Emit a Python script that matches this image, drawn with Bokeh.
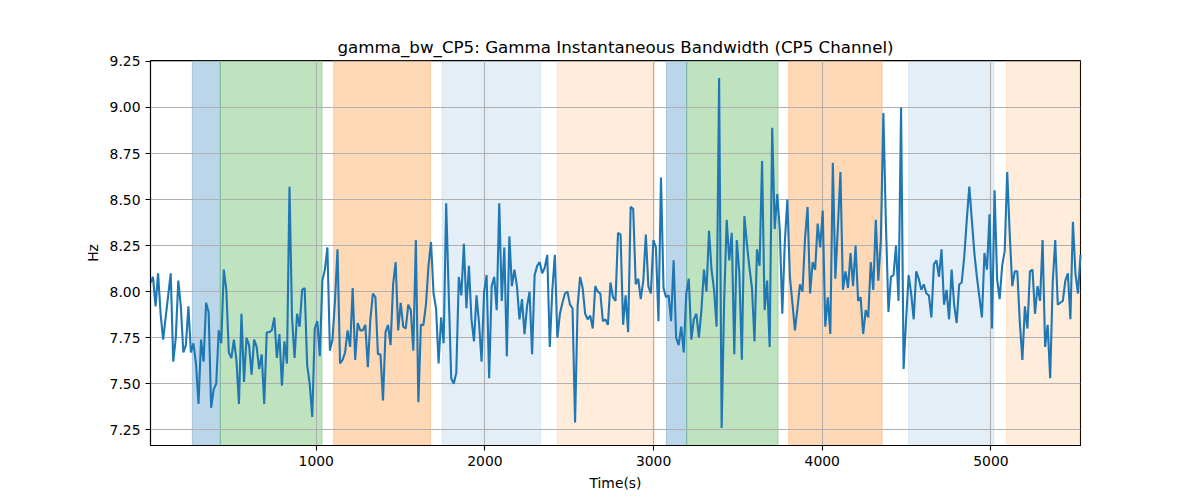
import numpy as np
from bokeh.plotting import figure
from bokeh.models import ColumnDataSource, FixedTicker, NumeralTickFormatter, Range1d
from bokeh.embed import file_html
from bokeh.resources import INLINE

# ---- data ----
t_start = 17
t_end = 5531

bandwidth = [
    # 0 - ~700 s
    8.05, 8.08, 7.92, 8.10, 7.88, 7.74, 7.86, 7.98, 8.10, 7.62, 7.75, 8.06, 7.92, 7.67, 7.71, 7.92,
    7.67, 7.72, 7.61, 7.39, 7.74, 7.62, 7.94, 7.89, 7.37, 7.47, 7.50, 7.79, 7.72, 8.12, 8.01, 7.67,
    7.64, 7.74, 7.63, 7.39, 7.88, 7.51, 7.75, 7.71, 7.55, 7.74, 7.70, 7.58, 7.66, 7.39, 7.78, 7.78,
    # ~700 - 1400 s
    7.79, 7.86, 7.64, 7.77, 7.49, 7.73, 7.61, 8.57, 7.86, 7.64, 7.88, 7.81, 8.01, 8.02, 7.60, 7.50,
    7.32, 7.80, 7.84, 7.65, 8.06, 8.12, 8.24, 7.68, 7.74, 7.95, 8.23, 7.61, 7.63, 7.67, 7.79, 7.70,
    8.02, 7.63, 7.83, 7.79, 7.79, 7.82, 7.59, 7.85, 7.99, 7.97, 7.66, 7.66, 7.41, 7.78,
    # ~1400 - 2100 s
    7.82, 7.71, 8.04, 8.16, 7.79, 7.94, 7.81, 7.80, 7.93, 7.90, 7.68, 8.28, 7.40, 7.82, 7.82, 7.93,
    8.14, 8.27, 7.99, 7.91, 7.61, 7.86, 7.72, 8.48, 7.99, 7.53, 7.50, 7.56, 8.08, 7.98, 8.26, 7.91,
    8.14, 7.85, 7.73, 7.98, 7.83, 7.62, 8.00, 8.09, 7.53, 8.03, 8.08, 7.90, 8.48,
    # ~2100 - 2800 s
    7.95, 8.24, 7.65, 8.30, 8.03, 8.12, 8.03, 7.85, 7.96, 7.77, 7.92, 8.00, 7.66, 8.09, 8.14, 8.16,
    8.10, 8.13, 8.20, 7.70, 8.01, 8.20, 7.75, 7.88, 7.94, 7.99, 8.00, 7.93, 7.91, 7.29, 7.92, 8.08,
    8.02, 7.88, 7.85, 7.87, 7.80, 8.03, 8.00, 7.99, 7.84, 7.85, 7.82, 8.05, 7.97, 7.95, 8.32,
    # ~2800 - 3500 s
    8.31, 7.82, 7.98, 7.78, 8.46, 8.45, 8.04, 8.07, 7.96, 8.06, 8.31, 8.03, 7.99, 8.28, 8.24, 7.84,
    8.62, 8.02, 7.97, 7.98, 7.84, 8.17, 7.75, 7.71, 7.81, 7.67, 7.99, 8.07, 7.74, 7.85, 7.88, 7.75,
    7.90, 8.12, 8.00, 8.33, 8.12, 8.01, 7.81, 9.16, 7.26, 7.95, 8.39, 8.17, 8.32, 7.66, 8.28,
    # ~3500 - 4200 s
    8.10, 7.63, 8.41, 8.26, 8.13, 8.02, 7.73, 8.23, 8.14, 8.71, 7.90, 8.06, 7.70, 8.89, 8.34, 8.53,
    8.34, 7.88, 8.27, 8.50, 8.08, 7.94, 7.79, 7.91, 8.04, 8.00, 8.29, 8.46, 7.99, 8.16, 8.12, 8.37,
    8.24, 8.44, 7.81, 7.97, 7.77, 8.70, 8.07, 8.35, 8.65, 8.01, 8.11, 8.02, 8.21, 8.03,
    # ~4200 - 4900 s
    8.25, 7.95, 7.97, 7.77, 7.90, 7.86, 8.16, 8.01, 8.39, 8.06, 8.28, 8.97, 8.37, 7.89, 8.08, 8.09,
    8.25, 7.95, 9.00, 7.58, 7.85, 8.09, 7.99, 7.85, 8.11, 8.07, 8.01, 8.04, 7.99, 7.98, 7.86, 8.15,
    8.17, 8.08, 8.23, 7.93, 8.01, 7.85, 8.12, 7.93, 7.83, 8.04, 8.05, 8.19, 8.39, 8.57,
    # ~4900 - 5531 s
    8.39, 8.21, 8.08, 7.97, 7.86, 8.21, 8.12, 8.42, 7.80, 8.55, 8.07, 7.96, 8.14, 8.22, 8.65, 8.31,
    8.03, 8.11, 8.11, 7.83, 7.63, 7.92, 7.80, 8.11, 8.12, 7.88, 8.03, 7.95, 8.28, 7.70, 7.82, 7.53,
    8.05, 8.28, 7.93, 7.94, 7.95, 8.06, 8.10, 7.85, 8.38, 8.10, 7.99, 8.20,
]

span_start = [265, 431, 1103, 1747, 2429, 3076, 3196, 3801, 4511, 5092]
span_end = [431, 1034, 1677, 2329, 3003, 3196, 3738, 4355, 5017, 5531]
span_kind = ["blue", "green", "orange", "lightblue", "lightorange",
             "blue", "green", "orange", "lightblue", "lightorange"]

x_ticks = [1000, 2000, 3000, 4000, 5000]
y_ticks = [7.25, 7.50, 7.75, 8.00, 8.25, 8.50, 8.75, 9.00, 9.25]

# ---- styles ----
kind_style = {
    "blue": ("#1f77b4", 0.30),
    "green": ("#2ca02c", 0.30),
    "orange": ("#ff7f0e", 0.30),
    "lightblue": ("#1f77b4", 0.12),
    "lightorange": ("#ff7f0e", 0.15),
}

t = np.linspace(t_start, t_end, len(bandwidth))

FONT = "DejaVu Sans"

p = figure(width=1200, height=500, output_backend="svg", toolbar_location=None,
           x_range=Range1d(t_start, t_end), y_range=Range1d(7.165, 9.255),
           title="gamma_bw_CP5: Gamma Instantaneous Bandwidth (CP5 Channel)")
p.min_border_left = 150
p.min_border_right = 120
p.min_border_top = 60
p.min_border_bottom = 55
p.background_fill_color = "white"
p.border_fill_color = "white"
p.outline_line_color = "black"
p.outline_line_width = 1.1

p.title.align = "center"
p.title.text_font = FONT
p.title.text_font_size = "16.7px"
p.title.text_font_style = "normal"
p.title.text_color = "black"
p.title.standoff = 8

span_src = ColumnDataSource(dict(
    left=span_start, right=span_end,
    bottom=[0] * len(span_start), top=[20] * len(span_start),
    color=[kind_style[k][0] for k in span_kind],
    alpha=[kind_style[k][1] for k in span_kind],
))
spans = p.quad(left="left", right="right", bottom="bottom", top="top", source=span_src,
               fill_color="color", fill_alpha="alpha", line_color="color", line_alpha="alpha",
               line_width=1)
spans.level = "underlay"

line = p.line(t, bandwidth, line_color="#1f77b4", line_width=2.1)
line.level = "guide"

for g in (p.xgrid, p.ygrid):
    g.level = "glyph"
    g.grid_line_color = "#b0b0b0"
    g.grid_line_width = 1.1
p.xgrid.ticker = FixedTicker(ticks=x_ticks)
p.ygrid.ticker = FixedTicker(ticks=y_ticks)

p.xaxis.ticker = FixedTicker(ticks=x_ticks)
p.yaxis.ticker = FixedTicker(ticks=y_ticks)
p.yaxis.formatter = NumeralTickFormatter(format="0.00")
p.xaxis.axis_label = "Time(s)"
p.yaxis.axis_label = "Hz"

for ax in (p.xaxis, p.yaxis):
    ax.axis_line_color = "black"
    ax.axis_line_width = 1.1
    ax.major_tick_line_color = "black"
    ax.major_tick_line_width = 1.1
    ax.major_tick_out = 5
    ax.major_tick_in = 0
    ax.minor_tick_out = 0
    ax.minor_tick_in = 0
    ax.major_label_text_font = FONT
    ax.major_label_text_font_size = "13.9px"
    ax.major_label_text_color = "black"
    ax.axis_label_text_font = FONT
    ax.axis_label_text_font_size = "13.9px"
    ax.axis_label_text_font_style = "normal"
    ax.axis_label_text_color = "black"
    ax.axis_label_standoff = 6

open("out.html", "w").write(file_html(p, INLINE))
